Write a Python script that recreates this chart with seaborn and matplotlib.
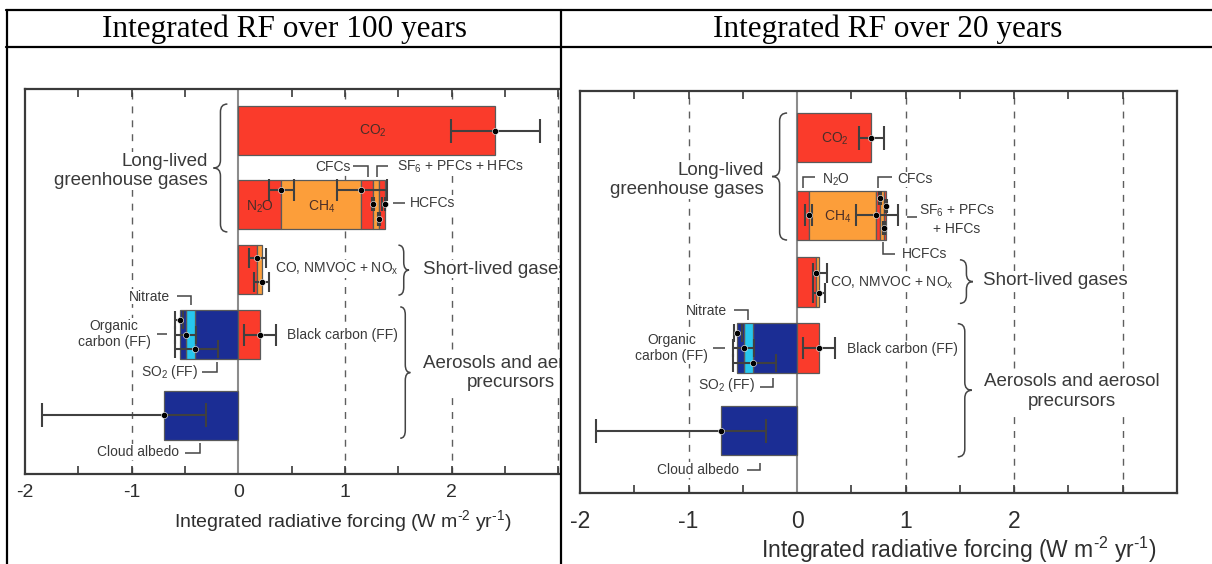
import numpy as np
import pandas as pd
import matplotlib
matplotlib.use("Agg")
import matplotlib.pyplot as plt
from matplotlib.path import Path
from matplotlib.patches import PathPatch
from matplotlib.lines import Line2D
import seaborn as sns

# ---------------- data (integrated RF, W m-2 yr) ----------------
# 100-year horizon
co2_100 = 2.41
co2_range_100 = [1.99, 2.83]
ghg_names_100 = ["N2O", "CH4", "CFCs", "SF6 + PFCs + HFCs", "HCFCs"]
ghg_vals_100 = [0.40, 0.75, 0.11, 0.06, 0.05]
ghg_lo_100 = [0.29, 0.92, 1.25, 1.305, 1.35]
ghg_hi_100 = [0.52, 1.39, 1.275, 1.33, 1.375]
slg_names = ["CO", "NMVOC + NOx"]
slg_vals_100 = [0.175, 0.05]
slg_lo_100 = [0.10, 0.15]
slg_hi_100 = [0.26, 0.29]
aer_names = ["SO2 (FF)", "Nitrate", "Organic carbon (FF)"]
aer_vals_100 = [-0.41, -0.08, -0.06]
aer_lo_100 = [-0.59, -0.59, -0.59]
aer_hi_100 = [-0.19, -0.40, -0.52]
bc_100 = 0.20
bc_range_100 = [0.05, 0.35]
cloud_100 = -0.70
cloud_range_100 = [-1.84, -0.30]

# 20-year horizon
co2_20 = 0.68
co2_range_20 = [0.57, 0.80]
ghg_names_20 = ["N2O", "CH4", "CFCs", "HCFCs", "SF6 + PFCs + HFCs"]
ghg_vals_20 = [0.11, 0.62, 0.03, 0.04, 0.016]
ghg_lo_20 = [0.077, 0.54, 0.75, 0.79, 0.808]
ghg_hi_20 = [0.138, 0.93, 0.772, 0.81, 0.824]
slg_vals_20 = [0.172, 0.028]
slg_lo_20 = [0.147, 0.147]
slg_hi_20 = [0.279, 0.255]
aer_vals_20 = [-0.405, -0.083, -0.064]
aer_lo_20 = [-0.595, -0.595, -0.583]
aer_hi_20 = [-0.19, -0.396, -0.506]
bc_20 = 0.20
bc_range_20 = [0.05, 0.35]
cloud_20 = -0.70
cloud_range_20 = [-1.85, -0.29]

tick_vals = [-2, -1, 0, 1, 2]
titles = ["Integrated RF over 100 years", "Integrated RF over 20 years"]
xlabel = "Integrated radiative forcing (W m$^{\u20102}$ yr$^{\u20101}$)"

# ---------------- style ----------------
sns.set_theme(style="white")
plt.rcParams["font.family"] = ["Liberation Sans", "DejaVu Sans"]
plt.rcParams["mathtext.fontset"] = "custom"
plt.rcParams["mathtext.rm"] = "Liberation Sans"
plt.rcParams["mathtext.it"] = "Liberation Sans:italic"
plt.rcParams["axes.unicode_minus"] = False

RED = "#FA3B2B"
ORANGE = "#FC9E3A"
NAVY = "#1B2D94"
CYAN = "#27C6EE"
EDGE = "#5a5a5a"
TXT = "#3a3a3a"
ERR = "#404040"
GHG_COLORS = [RED, ORANGE, RED, ORANGE, RED]
SLG_COLORS = [RED, ORANGE]
AER_COLORS = [NAVY, CYAN, NAVY]

W, H = 1212, 564
fig = plt.figure(figsize=(W / 100, H / 100), dpi=100)


def px_rect(x0, y0, x1, y1):
    return [x0 / W, 1 - y1 / H, (x1 - x0) / W, (y1 - y0) / H]


def err(ax, c, rng, y, cap):
    ax.errorbar([c], [y], xerr=[[c - rng[0]], [rng[1] - c]], fmt="none",
                ecolor=ERR, elinewidth=1.5, capsize=cap, capthick=1.5, zorder=4)


def brace(ax, x, y0, y1, w, r=0.16, lw=1.1):
    # x: position of the ends; tip at x + w (w<0 points left)
    ym = (y0 + y1) / 2
    xm = x + w * 0.5
    xt = x + w
    verts = [(x, y0), (xm, y0), (xm, y0 + r), (xm, ym - r), (xm, ym), (xt, ym),
             (xm, ym), (xm, ym + r), (xm, y1 - r), (xm, y1), (x, y1)]
    codes = [Path.MOVETO, Path.CURVE3, Path.CURVE3, Path.LINETO, Path.CURVE3, Path.CURVE3,
             Path.CURVE3, Path.CURVE3, Path.LINETO, Path.CURVE3, Path.CURVE3]
    ax.add_patch(PathPatch(Path(verts, codes), fc="none", ec="#444444", lw=lw, zorder=5))


def txt(ax, x, y, s, ha="left", size=10, box=True, clip=False, ma=None, color=TXT):
    kw = dict(ha=ha, va="center", fontsize=size, color=color, zorder=5, clip_on=clip)
    if ma:
        kw["multialignment"] = ma
    if box:
        kw["bbox"] = dict(fc="white", ec="none", pad=0.6)
    ax.text(x, y, s, **kw)


def leader(ax, pts):
    xs, ys = zip(*pts)
    ax.plot(xs, ys, color="#444444", lw=1.1, zorder=5, solid_capstyle="butt",
            solid_joinstyle="miter")


def draw_panel(ax, rows, co2, co2_rng, gv, glo, ghi, goff, gcaps, sv, slo, shi, soff,
               av, alo, ahi, aoff, bc, bc_rng, cld, cld_rng):
    dots = []
    kw = dict(height=1.0, edgecolor=EDGE, linewidth=0.9, zorder=2)
    ax.barh(rows[0], co2, color=RED, **kw)
    err(ax, co2, co2_rng, rows[0], 8.5)
    dots.append((co2, rows[0]))
    left = 0.0
    for v, c, lo, hi, off, cp in zip(gv, GHG_COLORS, glo, ghi, goff, gcaps):
        ax.barh(rows[1], v, left=left, color=c, **kw)
        left += v
        err(ax, left, (lo, hi), rows[1] + off, cp)
        dots.append((left, rows[1] + off))
    left = 0.0
    for v, c, lo, hi, off in zip(sv, SLG_COLORS, slo, shi, soff):
        ax.barh(rows[2], v, left=left, color=c, **kw)
        left += v
        err(ax, left, (lo, hi), rows[2] + off, 7.5)
        dots.append((left, rows[2] + off))
    left = 0.0
    for v, c, lo, hi, off in zip(av, AER_COLORS, alo, ahi, aoff):
        ax.barh(rows[3], v, left=left, color=c, **kw)
        left += v
        err(ax, left, (lo, hi), rows[3] + off, 6.5)
        dots.append((left, rows[3] + off))
    ax.barh(rows[3], bc, color=RED, **kw)
    err(ax, bc, bc_rng, rows[3], 8)
    dots.append((bc, rows[3]))
    ax.barh(rows[4], cld, color=NAVY, **kw)
    err(ax, cld, cld_rng, rows[4], 8.5)
    dots.append((cld, rows[4]))
    dd = pd.DataFrame(dots, columns=["x", "y"])
    sns.scatterplot(data=dd, x="x", y="y", ax=ax, color="black", s=20,
                    edgecolor="white", linewidth=0.4, zorder=6, legend=False)


def style_axes(ax, xlim, ylim, grid, tsize, pad, lab_xy, lab_size):
    ax.set_xlim(*xlim)
    ax.set_ylim(*ylim)
    for g in grid:
        ax.axvline(g, color="#5e5e5e", lw=1.0, ls=(0, (5, 5)), zorder=0.5)
    ax.axvline(0, color="#8c8c8c", lw=1.5, zorder=1.5)
    majors = [v for v in range(-2, 4) if xlim[0] <= v <= xlim[1]]
    ax.set_xticks(majors, labels=[str(v) if v in tick_vals else "" for v in majors])
    ax.set_xticks([v + 0.5 for v in range(-2, 3) if v + 0.5 < xlim[1]], minor=True)
    ax.set_yticks([])
    ax.set_ylabel("")
    ax.tick_params(axis="x", which="both", direction="in", top=True, bottom=True,
                   length=6, width=1.2, color="#3a3a3a", labelsize=tsize, pad=pad,
                   labelcolor="#2e2e2e")
    for s in ax.spines.values():
        s.set_color("#3a3a3a")
        s.set_linewidth(1.6)
    ax.set_xlabel(xlabel, fontsize=lab_size, color="#2e2e2e")
    ax.xaxis.label.set_va("center")
    ax.xaxis.set_label_coords(*lab_xy)


# ---------------- left panel : 100 years ----------------
ax1 = fig.add_axes(px_rect(25, 89, 559.5, 474))
rows1 = [0, 1.49, 2.83, 4.16, 5.80]
draw_panel(ax1, rows1, co2_100, co2_range_100, ghg_vals_100, ghg_lo_100, ghg_hi_100,
           [-0.28, -0.28, 0.0, 0.31, 0.0], [8, 8, 5, 5, 5],
           slg_vals_100, slg_lo_100, slg_hi_100, [-0.24, 0.25],
           aer_vals_100, aer_lo_100, aer_hi_100, [0.29, 0.0, -0.30],
           bc_100, bc_range_100, cloud_100, cloud_range_100)
style_axes(ax1, (-2, 3.01), (7.0, -0.857), [-1, 1, 2, 3], 14, 7, (0.594, -0.122), 14)
ax1.spines["right"].set_visible(False)

txt(ax1, 1.26, 0.0, "CO$_{\\mathregular{2}}$", ha="center", box=False, color="#4a2e28")
txt(ax1, 0.20, 1.55, "N$_{\\mathregular{2}}$O", ha="center", box=False, color="#4a2e28")
txt(ax1, 0.78, 1.55, "CH$_{\\mathregular{4}}$", ha="center", box=False, color="#4a2e28")
txt(ax1, 1.05, 0.74, "CFCs", ha="right")
leader(ax1, [(1.077, 0.714), (1.217, 0.714), (1.217, 0.94)])
leader(ax1, [(1.30, 0.94), (1.30, 0.714), (1.404, 0.714)])
txt(ax1, 1.486, 0.74, "SF$_{\\mathregular{6}}$ + PFCs + HFCs")
leader(ax1, [(1.451, 1.47), (1.564, 1.47)])
txt(ax1, 1.61, 1.47, "HCFCs")
txt(ax1, -0.29, 0.82, "Long-lived\ngreenhouse gases", ha="right", size=13.5, ma="right")
brace(ax1, -0.103, -0.55, 2.06, -0.13)
txt(ax1, 0.346, 2.82, "CO, NMVOC + NO$_{\\mathregular{x}}$")
brace(ax1, 1.50, 2.33, 3.35, 0.10)
txt(ax1, 1.73, 2.82, "Short-lived gases", size=13.5, clip=True)
txt(ax1, -0.637, 3.38, "Nitrate", ha="right")
leader(ax1, [(-0.574, 3.37), (-0.443, 3.37), (-0.443, 3.55)])
txt(ax1, -0.824, 4.14, "Organic\ncarbon (FF)", ha="right", ma="center")
leader(ax1, [(-0.761, 4.15), (-0.67, 4.15)])
txt(ax1, -0.375, 4.91, "SO$_{\\mathregular{2}}$ (FF)", ha="right")
leader(ax1, [(-0.34, 4.92), (-0.2, 4.92), (-0.2, 4.71)])
txt(ax1, 0.459, 4.16, "Black carbon (FF)")
brace(ax1, 1.517, 3.59, 6.27, 0.095)
txt(ax1, 2.55, 4.94, "Aerosols and aerosol\nprecursors", ha="center", size=13.5, clip=True,
    ma="center")
txt(ax1, -0.552, 6.55, "Cloud albedo", ha="right")
leader(ax1, [(-0.496, 6.57), (-0.356, 6.57), (-0.356, 6.37)])

# ---------------- right panel : 20 years ----------------
ax2 = fig.add_axes(px_rect(580, 91, 1177, 493))
rows2 = [0, 1.57, 2.92, 4.25, 5.92]
draw_panel(ax2, rows2, co2_20, co2_range_20, ghg_vals_20, ghg_lo_20, ghg_hi_20,
           [0.0, 0.0, -0.35, 0.26, -0.19], [8, 8, 5, 5, 5],
           slg_vals_20, slg_lo_20, slg_hi_20, [-0.19, 0.22],
           aer_vals_20, aer_lo_20, aer_hi_20, [0.30, 0.0, -0.31],
           bc_20, bc_range_20, cloud_20, cloud_range_20)
style_axes(ax2, (-2, 3.5), (7.18, -0.94), [-1, 1, 2, 3], 16.5, 12, (0.635, -0.142), 16.5)

txt(ax2, 0.35, 0.03, "CO$_{\\mathregular{2}}$", ha="center", box=False, color="#4a2e28")
leader(ax2, [(0.052, 1.02), (0.052, 0.80), (0.166, 0.80)])
txt(ax2, 0.227, 0.845, "N$_{\\mathregular{2}}$O")
leader(ax2, [(0.749, 1.02), (0.749, 0.80), (0.872, 0.80)])
txt(ax2, 0.924, 0.845, "CFCs")
txt(ax2, 0.378, 1.60, "CH$_{\\mathregular{4}}$", ha="center", box=False, color="#4a2e28")
leader(ax2, [(1.01, 1.61), (1.102, 1.61)])
txt(ax2, 1.473, 1.65, "SF$_{\\mathregular{6}}$ + PFCs\n+ HFCs", ha="center", ma="center")
leader(ax2, [(0.795, 2.10), (0.795, 2.35), (0.902, 2.35)])
txt(ax2, 0.964, 2.35, "HCFCs")
txt(ax2, -0.304, 0.86, "Long-lived\ngreenhouse gases", ha="right", size=13.5, ma="right")
brace(ax2, -0.092, -0.495, 2.07, -0.138)
txt(ax2, 0.304, 2.93, "CO, NMVOC + NO$_{\\mathregular{x}}$")
brace(ax2, 1.50, 2.47, 3.35, 0.12)
txt(ax2, 1.716, 2.88, "Short-lived gases", size=13.5)
txt(ax2, -0.647, 3.50, "Nitrate", ha="right")
leader(ax2, [(-0.58, 3.48), (-0.448, 3.48), (-0.448, 3.69)])
txt(ax2, -0.822, 4.25, "Organic\ncarbon (FF)", ha="right", ma="center")
leader(ax2, [(-0.773, 4.26), (-0.663, 4.26)])
txt(ax2, -0.387, 5.00, "SO$_{\\mathregular{2}}$ (FF)", ha="right")
leader(ax2, [(-0.34, 5.03), (-0.22, 5.03), (-0.22, 4.86)])
txt(ax2, 0.457, 4.28, "Black carbon (FF)")
brace(ax2, 1.48, 3.76, 6.45, 0.13)
txt(ax2, 2.53, 5.13, "Aerosols and aerosol\nprecursors", ha="center", size=13.5, ma="center")
txt(ax2, -0.531, 6.72, "Cloud albedo", ha="right")
leader(ax2, [(-0.463, 6.72), (-0.34, 6.72), (-0.34, 6.58)])

# ---------------- table frame and headers ----------------
def fline(x0, y0, x1, y1):
    fig.add_artist(Line2D([x0 / W, x1 / W], [1 - y0 / H, 1 - y1 / H],
                          transform=fig.transFigure, color="black", lw=1.6, zorder=10))

fline(6, 10, 1212, 10)
fline(6, 47, 1212, 47)
fline(7, 10, 7, 564)
fline(561, 10, 561, 564)

for cx, t in zip([284, 888], titles):
    fig.text(cx / W, 1 - 29 / H, t, ha="center", va="center", fontsize=22.5,
             family=["Liberation Serif", "DejaVu Serif"], color="black")

fig.savefig("out.png", dpi=100, facecolor="white")
